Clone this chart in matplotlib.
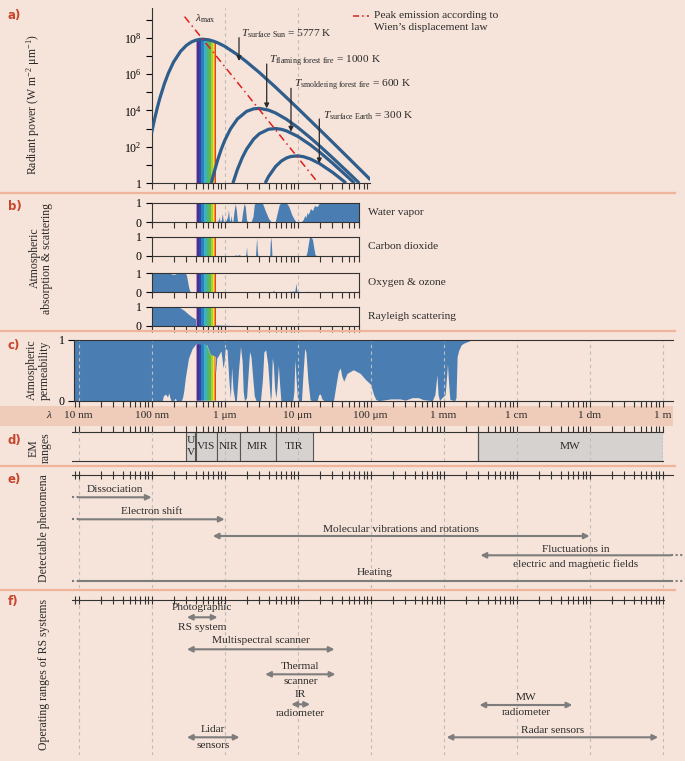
import numpy as np
import matplotlib.pyplot as plt
from matplotlib.lines import Line2D
from matplotlib.patches import Rectangle
from matplotlib.ticker import LogLocator, NullFormatter, FixedLocator
from matplotlib.transforms import blended_transform_factory

W, H = 685, 761

# --- a) blackbody exitance, wavelength in um, W m-2 um-1 (read from the curves)
sun_um = [0.1, 0.11, 0.12, 0.13, 0.15, 0.17, 0.2, 0.25, 0.3, 0.35, 0.4, 0.45, 0.5,
          0.6, 0.7, 0.8, 1.0, 1.5, 2.0, 3.0, 5.0, 7.0, 10.0, 20.0, 30.0, 50.0, 100.0]
sun_exitance = [5.7e2, 3.4e3, 1.46e4, 4.8e4, 3.0e5, 1.14e6, 4.6e6, 1.8e7, 3.8e7, 5.8e7,
                7.2e7, 8.0e7, 8.3e7, 7.7e7, 6.5e7, 5.3e7, 3.4e7, 1.16e7, 4.7e6, 1.2e6,
                1.86e5, 5.2e4, 1.32e4, 880, 178, 23.5, 1.48]
fire_um = [0.66, 0.7, 0.8, 0.9, 1.0, 1.2, 1.5, 2.0, 2.5, 3.0, 4.0, 5.0, 7.0, 10.0,
           15.0, 20.0, 30.0, 50.0, 70.0]
fire_exitance = [1.0, 2.64, 17.6, 72, 211, 934, 3370, 8790, 12170, 12830, 10290, 7140,
                 3270, 1164, 306, 111, 25, 3.6, 0.98]
smolder_um = [1.3, 1.5, 1.75, 2.0, 2.5, 3.0, 4.0, 5.0, 6.0, 7.0, 10.0, 15.0, 20.0,
              30.0, 50.0, 60.0]
smolder_exitance = [0.98, 5.62, 25.5, 72.6, 262, 520, 912, 997, 901, 748, 374, 125,
                    50.5, 12.6, 1.95, 0.98]
earth_um = [3.6, 4.0, 5.0, 6.0, 7.0, 8.0, 10.0, 12.0, 15.0, 20.0, 30.0, 40.0, 46.0]
earth_exitance = [1.0, 2.27, 8.18, 16.3, 23.6, 28.5, 31.2, 28.2, 21.0, 11.7, 3.9, 1.58, 0.99]
wien_um = [0.283, 19.2]
wien_exitance = [1.45e9, 1.0]

# --- b) absorption (0..1), wavelength in um
water_um = [0.1, 0.78, 0.8, 0.82, 0.84, 0.87, 0.9, 0.93, 0.96, 1.0, 1.05, 1.1, 1.13,
            1.16, 1.2, 1.22, 1.26, 1.3, 1.35, 1.4, 1.45, 1.5, 1.7, 1.78, 1.85, 1.92,
            2.0, 2.1, 2.3, 2.45, 2.55, 2.65, 3.3, 3.6, 4.0, 4.4, 4.9, 5.2, 5.6, 6.0,
            7.0, 7.6, 8.3, 9.0, 9.7, 11.0, 12.0, 12.5, 13.0, 13.5, 14.0, 15.0, 16.0,
            17.0, 18.5, 20.0, 70.0]
water_abs = [0, 0, 0.15, 0.02, 0.28, 0.02, 0.1, 0.45, 0.05, 0.05, 0.1, 0.3, 0.64,
             0.15, 0.05, 0.35, 0.05, 0.05, 0.6, 0.96, 0.6, 0.05, 0.05, 0.6, 0.96, 0.8,
             0.1, 0.02, 0.02, 0.3, 0.9, 1.0, 0.98, 0.6, 0.2, 0.0, 0.0, 0.4, 0.9, 1.0,
             1.0, 0.8, 0.4, 0.15, 0.0, 0.0, 0.15, 0.35, 0.25, 0.5, 0.4, 0.7, 0.6,
             0.85, 0.8, 1.0, 1.0]
co2_um = [0.1, 1.35, 1.43, 1.5, 1.58, 1.65, 1.9, 1.95, 2.0, 2.03, 2.06, 2.65, 2.7, 2.75,
          2.8, 2.85, 4.15, 4.22, 4.3, 4.38, 4.45, 13.0, 13.5, 14.0, 14.5, 15.2, 16.0,
          16.7, 17.3, 18.0, 70.0]
co2_abs = [0, 0, 0.03, 0, 0.05, 0, 0, 0.05, 0.45, 0.05, 0, 0, 0.5, 0.95, 0.3, 0, 0,
           0.7, 1.0, 0.6, 0, 0, 0.2, 0.6, 0.95, 1.0, 0.85, 0.4, 0.05, 0, 0]
ozone_um = [0.1, 0.18, 0.19, 0.21, 0.22, 0.29, 0.3, 0.31, 0.32, 0.33, 0.34, 0.37, 0.6,
            0.75, 0.76, 0.77, 4.5, 4.7, 4.8, 9.2, 9.45, 9.6, 9.8, 13.5, 14.0, 14.5, 70.0]
ozone_abs = [1, 1, 0.95, 0.95, 1, 1, 0.9, 0.6, 0.3, 0.1, 0.02, 0, 0.02, 0, 0.05, 0, 0,
             0.1, 0, 0.05, 0.46, 0.3, 0.02, 0, 0.05, 0, 0]
rayleigh_um = [0.1, 0.2, 0.24, 0.28, 0.32, 0.36, 0.41, 0.46, 0.54, 0.62, 0.7, 0.8,
               1.0, 1.5, 70.0]
rayleigh_abs = [1, 1, 0.97, 0.8, 0.6, 0.45, 0.33, 0.22, 0.14, 0.08, 0.05, 0.03, 0.01,
                0, 0]

# --- c) atmospheric transmittance (0..1), wavelength in um
trans_um = [0.0087, 0.14, 0.145, 0.155, 0.165, 0.172, 0.178, 0.185, 0.2, 0.21, 0.22,
            0.255, 0.265, 0.275, 0.29, 0.32, 0.36, 0.4, 0.5, 0.57, 0.6, 0.64, 0.7, 0.745,
            0.76, 0.78, 0.82, 0.89, 0.92, 0.95, 0.98, 1.02, 1.08, 1.15, 1.2, 1.25, 1.3,
            1.38, 1.45, 1.55, 1.65, 1.74, 1.8, 1.87, 2.0, 2.1, 2.2, 2.3, 2.42, 2.55, 2.7,
            3.1, 3.3, 3.45, 3.65, 3.9, 4.15, 4.25, 4.35, 4.5, 4.65, 4.85, 5.05, 5.2, 5.45,
            5.65, 5.9, 8.6, 8.9, 9.2, 9.6, 10.0, 11.3, 11.8, 12.5, 13.0, 13.8, 14.8,
            15.5, 18.5, 19.5, 20.5, 21.5, 23.0, 31.0, 34.0, 36.0, 38.5, 40.0, 42.8, 47.5,
            58.0, 72.0, 85.0, 100.0, 110.0, 118.0, 130.0, 190.0, 250.0, 300.0, 370.0,
            450.0, 520.0, 700.0, 760.0, 810.0, 840.0, 880.0, 950.0, 1050.0, 1130.0,
            1170.0, 1220.0, 1420.0, 1480.0, 1530.0, 1600.0, 1740.0, 1900.0, 2100.0,
            2400.0, 1.0e6]
trans_val = [0, 0, 0.08, 0.11, 0.06, 0.13, 0.05, 0, 0, 0.04, 0, 0, 0.05, 0.15, 0.38,
             0.7, 0.86, 0.93, 0.93, 0.92, 0.84, 0.76, 0.74, 0.73, 0.45, 0.7, 0.74, 0.82,
             0.7, 0.54, 0.62, 0.86, 0.84, 0.3, 0.05, 0.55, 0.2, 0.0, 0.0, 0.5, 0.89,
             0.65, 0.15, 0.0, 0.05, 0.45, 0.81, 0.72, 0.4, 0.08, 0.0, 0.0, 0.35, 0.8,
             0.84, 0.6, 0.15, 0.0, 0.1, 0.7, 0.6, 0.2, 0.05, 0.2, 0.58, 0.3, 0.0, 0.0,
             0.15, 0.68, 0.3, 0.0, 0.0, 0.4, 0.86, 0.8, 0.35, 0.02, 0.0, 0.0, 0.1, 0.11,
             0.03, 0.0, 0.0, 0.3, 0.48, 0.54, 0.42, 0.32, 0.45, 0.51, 0.45, 0.35, 0.27,
             0.1, 0.02, 0.0, 0.03, 0.03, 0.01, 0.05, 0.05, 0.02, 0.0, 0.1, 0.43, 0.1,
             0.0, 0.05, 0.1, 0.6, 0.3, 0.02, 0.0, 0.05, 0.72, 0.82, 0.92, 0.95, 0.97,
             1.0, 1.0]

# visible spectrum stripes (um)
spec_edges_um = [0.40, 0.42, 0.45, 0.48, 0.52, 0.56, 0.60, 0.65, 0.69, 0.72, 0.745, 0.77]
spec_colors = ['#b98ac4', '#4a2f8f', '#2d4a9e', '#2a7fc4', '#3fb0c9', '#46b58f',
               '#5bb85a', '#a8cf3a', '#f3e124', '#f39a1e', '#e2412b']

# --- d) EM ranges (um)
em_names = ['U\nV', 'VIS', 'NIR', 'MIR', 'TIR', 'MW']
em_from_um = [0.3, 0.4, 0.78, 1.6, 5.0, 3000.0]
em_to_um = [0.39, 0.78, 1.6, 5.0, 16.0, 1.0e6]

# --- e) detectable phenomena (m)
phen_above = ['Dissociation', 'Electron shift', 'Molecular vibrations and rotations',
              'Fluctuations in', 'Heating']
phen_below = ['', '', '', 'electric and magnetic fields', '']
phen_from_m = [1e-8, 1e-8, 6.9e-7, 3.2e-3, 1e-8]
phen_to_m = [1e-7, 1e-6, 0.1, 1.3, 1.3]

# --- f) operating ranges of RS systems (m)
rs_above = ['Photographic', 'Multispectral scanner', 'Thermal', 'IR', 'MW', 'Lidar',
            'Radar sensors']
rs_below = ['RS system', '', 'scanner', 'radiometer', 'radiometer', 'sensors', '']
rs_from_m = [3.05e-7, 3.05e-7, 3.6e-6, 8.2e-6, 3.1e-3, 3.05e-7, 1.1e-3]
rs_to_m = [8.0e-7, 3.2e-5, 3.3e-5, 1.48e-5, 5.8e-2, 1.6e-6, 0.87]

lam_ticks = ['10 nm', '100 nm', '1 μm', '10 μm', '100 μm', '1 mm', '1 cm', '1 dm', '1 m']

BG = '#f6e3d9'
BAND = '#efcbb9'
SEP = '#efb59c'
RED = '#c8452b'
CURVE = '#2f5d8c'
FILL = '#4a7eb3'
GRID = '#bdbdbd'
ARROW = '#7d7d7d'
BOX = '#d6d2cf'
INK = '#2a2a2a'
SERIF = 'Liberation Serif'
FS = 8.2

plt.rcParams['font.family'] = SERIF
plt.rcParams['font.size'] = FS
plt.rcParams['text.color'] = INK
plt.rcParams['mathtext.fontset'] = 'custom'
plt.rcParams['mathtext.rm'] = SERIF
plt.rcParams['mathtext.it'] = SERIF + ':italic'
plt.rcParams['axes.edgecolor'] = '#333333'
plt.rcParams['axes.linewidth'] = 0.8

fig = plt.figure(figsize=(W / 100, H / 100), dpi=100, facecolor=BG)


def px_rect(l, t, r, b):
    return [l / W, 1 - b / H, (r - l) / W, (b - t) / H]


def lam_px(px):
    # wavelength (m) at a pixel column of the shared log axis
    return 10 ** (-8 + (px - 78.6) / 73.0)


def fy(py):
    return 1 - py / H


def um(v):
    return np.asarray(v) * 1e-6


def log_xaxis(ax, l, r, where='bottom', direction='out', length=4):
    ax.set_xscale('log')
    ax.set_xlim(lam_px(l), lam_px(r))
    ax.xaxis.set_major_locator(LogLocator(base=10, numticks=30))
    ax.xaxis.set_minor_locator(LogLocator(base=10, subs=np.arange(2, 10), numticks=300))
    ax.xaxis.set_major_formatter(NullFormatter())
    ax.xaxis.set_minor_formatter(NullFormatter())
    ax.xaxis.set_ticks_position(where)
    ax.tick_params(axis='x', which='both', direction=direction, length=length,
                   width=0.8, color='#333333')


def draw_spectrum(ax, clip=None):
    for lo, hi, c in zip(spec_edges_um[:-1], spec_edges_um[1:], spec_colors):
        r = ax.axvspan(lo * 1e-6, hi * 1e-6, color=c, lw=0, zorder=2)
        if clip is not None:
            r.set_clip_path(clip.get_paths()[0], ax.transData)


def decade_grid(ax, decades, zorder=1):
    for d in decades:
        ax.axvline(d, color=GRID, lw=0.8, ls=(0, (3, 3)), zorder=zorder)


def panel_label(letter, py):
    fig.text(8 / W, fy(py), letter, color=RED, fontweight='bold', family='DejaVu Sans',
             fontsize=8.5, ha='left', va='center')


def side_label(text, px, py):
    fig.text(px / W, fy(py), text, rotation=90, ha='center', va='center',
             fontsize=8.5, linespacing=1.05, multialignment='center')


def separator(py):
    fig.add_artist(Line2D([0, 675 / W], [fy(py), fy(py)], transform=fig.transFigure,
                          color=SEP, lw=1.6))


# ---------------- a) radiant power
ax_a = fig.add_axes(px_rect(151.6, 8, 370, 183))
ax_a.set_facecolor('none')
log_xaxis(ax_a, 151.6, 370)
ax_a.set_yscale('log')
ax_a.set_ylim(1, 10 ** ((183 - 8) / 18.16))
ax_a.yaxis.set_major_locator(FixedLocator([1, 1e2, 1e4, 1e6, 1e8]))
ax_a.yaxis.set_major_formatter(NullFormatter())
ax_a.set_yticklabels(['1', '$10^2$', '$10^4$', '$10^6$', '$10^8$'])
ax_a.yaxis.set_minor_locator(FixedLocator([1e1, 1e3, 1e5, 1e7, 1e9]))
ax_a.yaxis.set_minor_formatter(NullFormatter())
ax_a.tick_params(axis='y', which='both', direction='out', length=4, width=0.8, pad=3,
                 labelsize=8.5)
for s in ['top', 'right']:
    ax_a.spines[s].set_visible(False)
decade_grid(ax_a, [1e-6, 1e-5])

sun_clip = ax_a.fill_between(um(sun_um), 1, sun_exitance, color='none', lw=0)
draw_spectrum(ax_a, sun_clip)
for xs, ys in [(sun_um, sun_exitance), (fire_um, fire_exitance),
               (smolder_um, smolder_exitance), (earth_um, earth_exitance)]:
    ax_a.plot(um(xs), ys, color=CURVE, lw=2.3, solid_capstyle='butt', zorder=3)
ax_a.plot(um(wien_um), wien_exitance, color='#e0201b', lw=1.1,
          ls=(0, (5, 2.5, 1, 2.5)), zorder=4, clip_on=False)


def ypx(py):
    return 10 ** ((183 - py) / 18.16)


temp_labels = [r'$T_{\mathrm{surface\ Sun}}$ = 5777 K',
               r'$T_{\mathrm{flaming\ forest\ fire}}$ = 1000 K',
               r'$T_{\mathrm{smoldering\ forest\ fire}}$ = 600 K',
               r'$T_{\mathrm{surface\ Earth}}$ = 300 K']
arrow_cols = [239, 266.7, 291, 319.3]
arrow_tops = [37.7, 64, 88.3, 119]
arrow_tips = [61, 108.3, 131.7, 163.3]
label_cols = [240.7, 269.3, 294.3, 322.7]
for lab, ax_px, t0, t1, lx in zip(temp_labels, arrow_cols, arrow_tops, arrow_tips,
                                  label_cols):
    ax_a.annotate('', xy=(lam_px(ax_px), ypx(t1)), xytext=(lam_px(ax_px), ypx(t0)),
                  arrowprops=dict(arrowstyle='-|>', color=INK, lw=0.9,
                                  mutation_scale=7, shrinkA=0, shrinkB=0), zorder=5)
    ax_a.text(lam_px(lx), ypx(t0 - 1), lab, ha='left', va='baseline', fontsize=FS)
ax_a.text(lam_px(195), ypx(21), r'$\lambda_{\mathrm{max}}$', ha='left', va='baseline',
          fontsize=FS)

# legend for Wien line
fig.add_artist(Line2D([353.3 / W, 369 / W], [fy(16), fy(16)], transform=fig.transFigure,
                      color='#e0201b', lw=1.1, ls=(0, (4, 2, 1, 2))))
fig.text(373.7 / W, fy(16), 'Peak emission according to', ha='left', va='center',
         fontsize=FS)
fig.text(373.7 / W, fy(28), 'Wien’s displacement law', ha='left', va='center',
         fontsize=FS)

# ---------------- b) absorption & scattering
b_rows = [(202.7, 222.3), (236.7, 255.5), (273.3, 292), (306.7, 325.5)]
b_series = [(water_um, water_abs, 'Water vapor'),
            (co2_um, co2_abs, 'Carbon dioxide'),
            (ozone_um, ozone_abs, 'Oxygen & ozone'),
            (rayleigh_um, rayleigh_abs, 'Rayleigh scattering')]
for (top, bot), (xs, ys, name) in zip(b_rows, b_series):
    ax = fig.add_axes(px_rect(151.6, top, 359.3, bot))
    ax.set_facecolor('none')
    log_xaxis(ax, 151.6, 359.3)
    ax.set_ylim(0, 1)
    ax.set_yticks([0, 1])
    ax.set_yticklabels(['0', '1'])
    ax.tick_params(axis='y', direction='out', length=4, width=0.8, pad=3, labelsize=8.5)
    decade_grid(ax, [1e-6, 1e-5], zorder=0.5)
    ax.fill_between(um(xs), 0, ys, color=FILL, lw=0, zorder=1)
    draw_spectrum(ax)
    ax.text(lam_px(368), 0.5, name, ha='left', va='center', fontsize=FS)

# ---------------- c) atmospheric permeability
ax_c = fig.add_axes(px_rect(74.3, 340, 672.8, 400.7))
ax_c.set_facecolor('none')
log_xaxis(ax_c, 74.3, 672.8)
ax_c.set_ylim(0, 1)
ax_c.set_yticks([0, 1])
ax_c.set_yticklabels(['0', '1'])
ax_c.tick_params(axis='y', direction='out', length=4, width=0.8, pad=3, labelsize=8.5)
ax_c.spines['right'].set_visible(False)
ax_c.fill_between(um(trans_um), trans_val, 1, color=FILL, lw=0, zorder=1)
win_clip = ax_c.fill_between(um(trans_um), 0, trans_val, color='none', lw=0)
draw_spectrum(ax_c, win_clip)
decade_grid(ax_c, [10.0 ** k for k in range(-8, 1)], zorder=3)
for s in ['top', 'left', 'bottom']:
    ax_c.spines[s].set_zorder(4)

# wavelength band
fig.add_artist(Rectangle((0, fy(425.5)), 673 / W, 19.5 / H, transform=fig.transFigure,
                         facecolor=BAND, edgecolor='none', zorder=0))
band_tr = blended_transform_factory(ax_c.transData, fig.transFigure)
for k, lab in enumerate(lam_ticks):
    ax_c.text(10.0 ** (k - 8), fy(416), lab, transform=band_tr, ha='center',
              va='center', fontsize=FS)
fig.text(49 / W, fy(416), 'λ', ha='center', va='center', fontsize=FS, style='italic')

# ---------------- d) EM ranges
ax_d = fig.add_axes(px_rect(72, 432.3, 663.5, 461))
ax_d.set_facecolor('none')
log_xaxis(ax_d, 72, 663.5, where='top')
ax_d.set_ylim(0, 1)
ax_d.set_yticks([])
for s in ['left', 'right']:
    ax_d.spines[s].set_visible(False)
decade_grid(ax_d, [10.0 ** k for k in range(-8, 0)], zorder=3)
for k, (name, lo, hi) in enumerate(zip(em_names, em_from_um, em_to_um)):
    if k == len(em_names) - 1:
        ax_d.axvspan(lo * 1e-6, hi * 1e-6, facecolor=BOX, edgecolor='none', zorder=1)
        ax_d.axvline(lo * 1e-6, color='#555555', lw=0.9, zorder=2)
        ax_d.axvline(hi * 1e-6, color='#555555', lw=0.9, ls=(0, (1.5, 1.5)), zorder=2)
    else:
        ax_d.axvspan(lo * 1e-6, hi * 1e-6, facecolor=BOX, edgecolor='#555555', lw=0.8,
                     zorder=1)
    ax_d.text(np.sqrt(lo * hi) * 1e-6, 0.5, name, ha='center', va='center', fontsize=FS,
              linespacing=1.45, zorder=4)

# ---------------- e) detectable phenomena
ax_e = fig.add_axes(px_rect(72, 475, 672.8, 588))
ax_e.set_facecolor('none')
log_xaxis(ax_e, 72, 672.8, where='top', direction='inout', length=6)
ax_e.set_ylim(588, 475)
ax_e.set_yticks([])
for s in ['left', 'right', 'bottom']:
    ax_e.spines[s].set_visible(False)
decade_grid(ax_e, [10.0 ** k for k in range(-8, 1)])


def span_arrow(ax, x0, x1, y, style):
    ax.annotate('', xy=(x1, y), xytext=(x0, y), annotation_clip=False,
                arrowprops=dict(arrowstyle=style, color=ARROW, lw=1.5, shrinkA=0,
                                shrinkB=0, mutation_scale=8))


def dotted(ax, x0, x1, y):
    ax.plot([x0, x1], [y, y], color=ARROW, lw=1.5, ls=(0, (1, 1.2)), clip_on=False)


phen_arrow_y = [497.3, 519.3, 536, 555.3, 581]
phen_above_y = [489, 511.7, 529.3, 549.3, 572.3]
phen_below_y = [None, None, None, 564, None]
phen_style = ['-|>', '-|>', '<|-|>', '<|-', '-']
phen_left_dots = [True, True, False, False, True]
phen_right_dots = [False, False, False, True, True]
for i in range(len(phen_above)):
    x0, x1, y = phen_from_m[i], phen_to_m[i], phen_arrow_y[i]
    span_arrow(ax_e, x0, x1, y, phen_style[i])
    if phen_left_dots[i]:
        dotted(ax_e, lam_px(72), x0, y)
    if phen_right_dots[i]:
        dotted(ax_e, x1, lam_px(684), y)
    xm = np.sqrt(x0 * x1)
    ax_e.text(xm, phen_above_y[i], phen_above[i], ha='center', va='center', fontsize=FS)
    if phen_below[i]:
        ax_e.text(xm, phen_below_y[i], phen_below[i], ha='center', va='center',
                  fontsize=FS)

# ---------------- f) operating ranges of RS systems
ax_f = fig.add_axes(px_rect(72, 600, 664, 755))
ax_f.set_facecolor('none')
log_xaxis(ax_f, 72, 664, where='top', direction='inout', length=6)
ax_f.set_ylim(755, 600)
ax_f.set_yticks([])
for s in ['left', 'right', 'bottom']:
    ax_f.spines[s].set_visible(False)
decade_grid(ax_f, [10.0 ** k for k in range(-8, 1)])

rs_arrow_y = [617.3, 649.3, 674.3, 704.3, 705, 737.3, 737.3]
rs_above_y = [607.3, 640.7, 666.2, 694.3, 697.7, 729.3, 730.3]
rs_below_y = [627.3, None, 681.5, 713, 712.5, 745, None]
for i in range(len(rs_above)):
    x0, x1, y = rs_from_m[i], rs_to_m[i], rs_arrow_y[i]
    span_arrow(ax_f, x0, x1, y, '<|-|>')
    xm = np.sqrt(x0 * x1)
    ax_f.text(xm, rs_above_y[i], rs_above[i], ha='center', va='center', fontsize=FS)
    if rs_below[i]:
        ax_f.text(xm, rs_below_y[i], rs_below[i], ha='center', va='center', fontsize=FS)

# ---------------- frame: separators, panel letters, side labels
for py in [193, 331, 465.5, 589.5]:
    separator(py)

for letter, py in zip(['a)', 'b)', 'c)', 'd)', 'e)', 'f)'],
                      [16, 206.5, 346, 440.5, 479, 601.5]):
    panel_label(letter, py)

side_label('Radiant power (W m$^{-2}$ μm$^{-1}$)', 33, 105)
side_label('Atmospheric\nabsorption & scattering', 41, 258)
side_label('Atmospheric\npermeability', 38.5, 370)
side_label('EM\nranges', 40, 448)
side_label('Detectable phenomena', 43.7, 528)
side_label('Operating ranges of RS systems', 43.7, 675)

fig.savefig('out.png', dpi=100, facecolor=BG)
